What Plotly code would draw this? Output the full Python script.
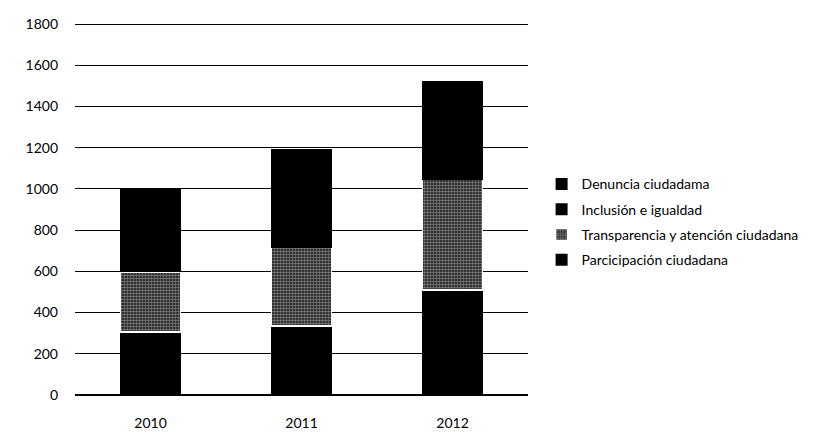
import plotly.graph_objects as go

years = ["2010", "2011", "2012"]
participacion = [305, 335, 510]
transparencia = [292, 380, 535]
inclusion = [200, 205, 155]
denuncia = [203, 275, 324]

series = [
    ("Parcicipación ciudadana", participacion),
    ("Transparencia y atención ciudadana", transparencia),
    ("Inclusión e igualdad", inclusion),
    ("Denuncia ciudadama", denuncia),
]

fig = go.Figure()
for i, (name, vals) in enumerate(series):
    if name.startswith("Transparencia"):
        marker = dict(color="#111111", line=dict(color="white", width=1.5),
                      pattern=dict(shape=".", fgcolor="#e6e6e6", bgcolor="#111111",
                                   size=3, solidity=0.6))
    else:
        marker = dict(color="#000000", line=dict(color="#000000", width=0))
    fig.add_trace(go.Bar(x=years, y=vals, name=name, marker=marker,
                         legendgroup="g%d" % i, legendrank=1000 - i))

# page body has an 8px margin, so the figure is sized/offset to compensate
fig.update_layout(
    barmode="stack",
    bargap=0.6,
    width=808, height=438,
    margin=dict(l=67, r=279, t=14, b=51),
    paper_bgcolor="white", plot_bgcolor="white",
    font=dict(family="Lato, Liberation Sans, sans-serif", size=14, color="black"),
    legend=dict(x=1.03, y=0.464, xanchor="left", yanchor="middle",
                traceorder="grouped", font=dict(size=14), itemwidth=30,
                tracegroupgap=4),
    xaxis=dict(showline=True, linecolor="black", linewidth=1, ticks="",
               tickfont=dict(size=14), automargin=False, ticklabelstandoff=15),
    yaxis=dict(range=[0, 1810], dtick=200, showgrid=True, gridcolor="black",
               gridwidth=1, zeroline=True, zerolinecolor="black",
               tickfont=dict(size=14), ticklen=0, ticklabelstandoff=16,
               automargin=False),
    showlegend=True,
)

fig.write_html("out.html")
